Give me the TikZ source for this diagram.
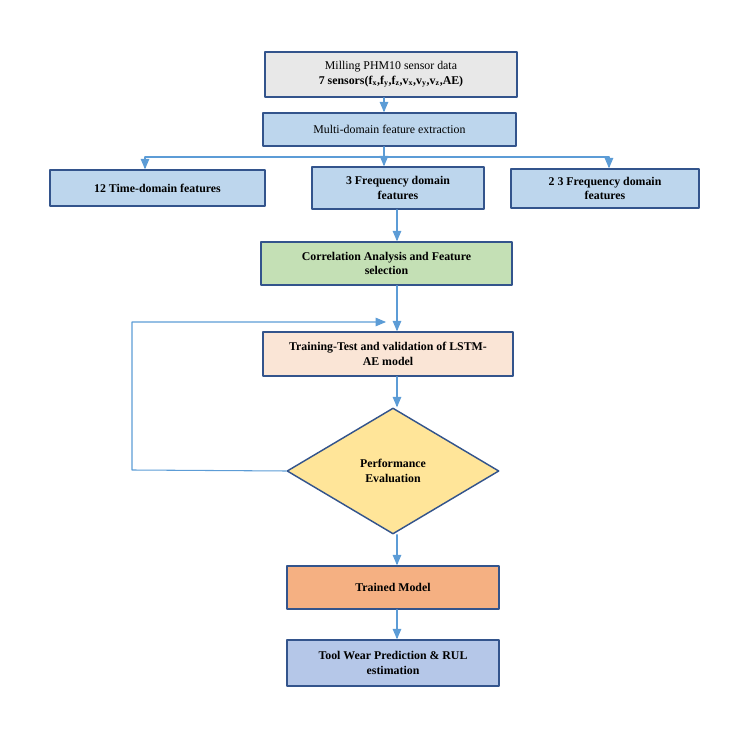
\documentclass[tikz,border=0pt]{standalone}
\usepackage{fontspec}
\setmainfont{Liberation Serif}
\usetikzlibrary{shapes.geometric,arrows}
\definecolor{edgeblue}{rgb}{0.2,0.33,0.55}
\definecolor{linkblue}{rgb}{0.36,0.61,0.84}
\definecolor{greybox}{rgb}{0.91,0.91,0.91}
\definecolor{bluebox}{rgb}{0.74,0.84,0.93}
\definecolor{greenbox}{rgb}{0.77,0.88,0.71}
\definecolor{pinkbox}{rgb}{0.98,0.90,0.84}
\definecolor{yellowbox}{rgb}{1.0,0.90,0.60}
\definecolor{orangebox}{rgb}{0.96,0.69,0.51}
\definecolor{toolbox}{rgb}{0.71,0.78,0.91}
\tikzset{
  blk/.style={draw=edgeblue,line width=1.1pt,align=center,inner sep=0pt,font=\bfseries\small},
  lnk/.style={draw=linkblue,line width=0.8pt,-triangle 45},
}
\begin{document}
\begin{tikzpicture}[x=0.02667cm,y=-0.02667cm,line cap=round,line join=round]
\useasboundingbox (0,0) rectangle (750,738);
% boxes
\node[blk,fill=greybox,minimum width=252*0.02667cm,minimum height=45*0.02667cm,font=\small] (data) at (391,74.5) {Milling PHM10 sensor data\\ \textbf{7 sensors(f\textsubscript{x},f\textsubscript{y},f\textsubscript{z},v\textsubscript{x},v\textsubscript{y},v\textsubscript{z},AE)}};
\node[blk,fill=bluebox,minimum width=253*0.02667cm,minimum height=33*0.02667cm,font=\small] (extract) at (389.5,129.5) {Multi-domain feature extraction};
\node[blk,fill=bluebox,minimum width=215*0.02667cm,minimum height=36*0.02667cm] (time) at (157.5,188) {12 Time-domain features};
\node[blk,fill=bluebox,minimum width=172*0.02667cm,minimum height=42*0.02667cm] (freq) at (398,188) {3 Frequency domain\\ features};
\node[blk,fill=bluebox,minimum width=188*0.02667cm,minimum height=39*0.02667cm] (freqb) at (605,188.5) {2 3 Frequency domain\\ features};
\node[blk,fill=greenbox,minimum width=251*0.02667cm,minimum height=43*0.02667cm] (corr) at (386.5,263.5) {Correlation Analysis and Feature\\ selection};
\node[blk,fill=pinkbox,minimum width=250*0.02667cm,minimum height=44*0.02667cm] (train) at (388,354) {Training-Test and validation of LSTM-\\ AE model};
\node[blk,diamond,fill=yellowbox,minimum width=212*0.02667cm,minimum height=126*0.02667cm,aspect=1.68] (eval) at (393,471) {Performance\\ Evaluation};
\node[blk,fill=orangebox,minimum width=212*0.02667cm,minimum height=43*0.02667cm] (model) at (393,587.5) {Trained Model};
\node[blk,fill=toolbox,minimum width=212*0.02667cm,minimum height=46*0.02667cm] (tool) at (393,663) {Tool Wear Prediction \& RUL\\ estimation};
% connectors
\coordinate (split) at (384,157);
\coordinate (back) at (132,470);
\coordinate (top) at (132,322);
\draw[lnk] (data.south-|split) -- (extract.north-|split);
\draw[draw=linkblue,line width=0.8pt] (extract.south-|split) -- (split);
\draw[draw=linkblue,line width=0.8pt] (145,157) -- (609,157);
\draw[lnk] (145,157) -- (time.north-|145,0);
\draw[lnk] (split) -- (freq.north-|split);
\draw[lnk] (609,157) -- (freqb.north-|609,0);
\draw[lnk] (freq.south-|397,0) -- (corr.north-|397,0);
\draw[lnk] (corr.south-|397,0) -- (train.north-|397,0);
\draw[lnk] (train.south-|397,0) -- (eval.north-|397,0);
\draw[lnk] (eval.west) -- (back) -- (top) -- (386,322);
\draw[lnk] (eval.south-|397,0) -- (model.north-|397,0);
\draw[lnk] (model.south-|397,0) -- (tool.north-|397,0);
\end{tikzpicture}
\end{document}
